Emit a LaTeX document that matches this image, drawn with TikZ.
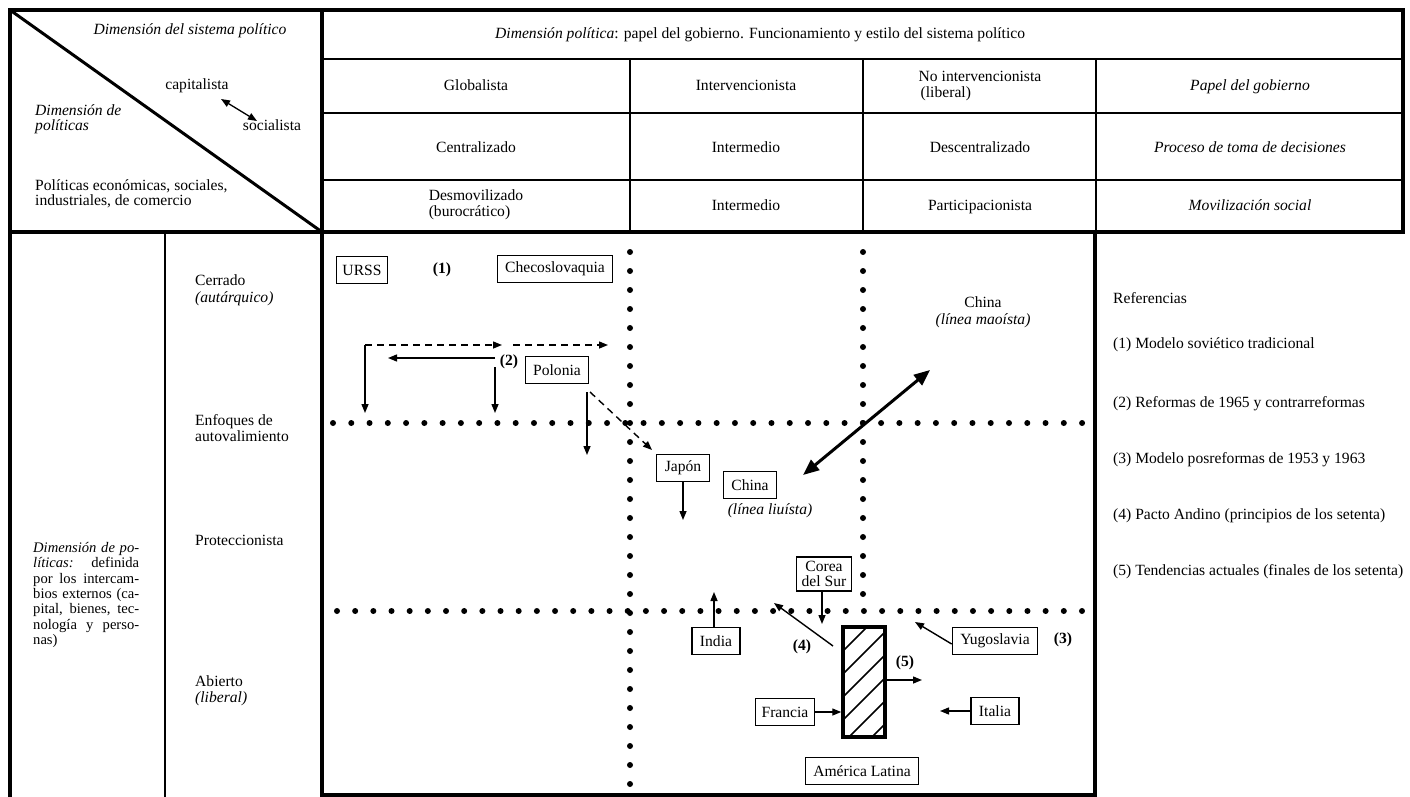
\documentclass[tikz,border=0pt]{standalone}
\usepackage{fontspec}
\setmainfont{Liberation Serif}
\usetikzlibrary{arrows.meta}
\newcommand{\jln}[1]{\hbox to 106pt{#1}}
\begin{document}
\begin{tikzpicture}[x=1pt,y=-1pt,font=\fontsize{15.6}{15.8}\selectfont]
\tikzset{
  heavy/.style={line width=3.5pt},
  fine/.style={line width=1.2pt},
  txt/.style={inner sep=0pt},
  cbox/.style={draw,line width=1.3pt,inner xsep=8pt,inner ysep=4pt,minimum height=27pt,align=center},
  num/.style={inner sep=0pt,font=\fontsize{15.6}{15.8}\selectfont\bfseries},
  arr/.style={line width=1.4pt,-{Triangle[length=9pt,width=7pt]}},
  darr/.style={arr,dash pattern=on 7pt off 5pt},
  bigdbl/.style={line width=3pt,{Triangle[length=16pt,width=13pt]}-{Triangle[length=16pt,width=13pt]}},
  smalldbl/.style={line width=1.3pt,{Triangle[length=9pt,width=7pt]}-{Triangle[length=9pt,width=7pt]}},
}
\useasboundingbox (0,0) rectangle (1410,797);

% ---------- header table ----------
\draw[heavy] (10,10) rectangle (1403,232);
\draw[heavy] (322,10) -- (322,232);
\draw[line width=3pt] (10,10) -- (322,232);
\foreach \y in {59,113,180} \draw[fine] (322,\y) -- (1403,\y);
\foreach \x in {630,863,1096} \draw[fine] (\x,59) -- (\x,232);

% corner cell
\node[txt,anchor=base] (sysdim) at (190,35) {\textit{Dimensión del sistema político}};
\node[txt,anchor=base] (cap) at (197,90) {capitalista};
\node[txt,anchor=base] (soc) at (272,131) {socialista};
\coordinate (capEnd) at (221,99);
\coordinate (socEnd) at (257,121);
\draw[smalldbl] (capEnd) -- (socEnd);
\node[txt,anchor=base west] (poldimA) at (35,116) {\textit{Dimensión de}};
\node[txt,anchor=base west] (poldimB) at (35,131) {\textit{políticas}};
\node[txt,anchor=base west] (polA) at (35,190) {Políticas económicas, sociales,};
\node[txt,anchor=base west] (polB) at (35,205) {industriales, de comercio};

% political dimension rows
\node[txt,anchor=base west] (title) at (495,39) {\textit{Dimensión política}: papel del gobierno. Funcionamiento y estilo del sistema político};
\node[txt,anchor=base] (glob) at (476,91) {Globalista};
\node[txt,anchor=base] (interv) at (746,91) {Intervencionista};
\node[txt,align=left] (nointerv) at (980,86) {No intervencionista\\\hspace{2pt}(liberal)};
\node[txt,anchor=base] (papel) at (1250,91) {\textit{Papel del gobierno}};
\node[txt,anchor=base] (centr) at (476,152) {Centralizado};
\node[txt,anchor=base] (interm1) at (746,152) {Intermedio};
\node[txt,anchor=base] (descentr) at (980,152) {Descentralizado};
\node[txt,anchor=base] (proceso) at (1250,152) {\textit{Proceso de toma de decisiones}};
\node[txt,align=left] (desmov) at (476,205) {Desmovilizado\\(burocrático)};
\node[txt,anchor=base] (interm2) at (746,210) {Intermedio};
\node[txt,anchor=base] (partic) at (980,210) {Participacionista};
\node[txt,anchor=base] (movil) at (1250,210) {\textit{Movilización social}};

% ---------- lower part ----------
\draw[heavy] (10,232) -- (10,797);
\draw[fine] (165,232) -- (165,797);
\draw[heavy] (322,232) rectangle (1095,795);
\draw[heavy] (1095,232) -- (1403,232);

% left paragraph
\node[txt,anchor=north west,align=left,font=\fontsize{14.6}{15.4}\selectfont] (extdim) at (33,542) {%
\vbox{\baselineskip=15.4pt
\jln{\textit{Dimensión de po-}}
\jln{\textit{líticas:}\hfill definida}
\jln{por los intercam-}
\jln{bios externos (ca-}
\jln{pital, bienes, tec-}
\jln{nología y perso-}
\hbox{nas)}}};

% openness levels
\node[txt,anchor=base west] (cerr) at (195,285) {Cerrado};
\node[txt,anchor=base west] (cerrB) at (195,302) {\textit{(autárquico)}};
\node[txt,anchor=base west] (enf) at (195,425) {Enfoques de};
\node[txt,anchor=base west] (enfB) at (195,441) {autovalimiento};
\node[txt,anchor=base west] (prot) at (195,545) {Proteccionista};
\node[txt,anchor=base west] (abi) at (195,686) {Abierto};
\node[txt,anchor=base west] (abiB) at (195,702) {\textit{(liberal)}};

% dotted quadrant lines
\foreach \i in {0,...,41} \fill ({333+\i*18.27},423) circle (3pt);
\foreach \i in {0,...,41} \fill ({337+\i*18.17},611) circle (3pt);
\foreach \i in {0,...,28} \fill (630,{252+\i*19}) circle (3pt);
\foreach \i in {0,...,18} \fill (863,{252+\i*19}) circle (3pt);

% countries
\node[cbox,inner xsep=6pt] (urss) at (362,270) {URSS};
\node[num] (n1) at (442,270) {(1)};
\node[cbox] (checo) at (555,269) {Checoslovaquia};
\node[cbox] (polonia) at (557,370) {Polonia};
\node[num] (n2) at (509,362) {(2)};
\node[cbox] (japon) at (683,468) {Japón};
\node[cbox] (chinaL) at (750,485) {China};
\node[txt] (liu) at (770,511) {\textit{(línea liuísta)}};
\node[txt] (chinaM) at (983,302) {China};
\node[txt] (mao) at (983,321) {\textit{(línea maoísta)}};
\node[cbox,inner xsep=5pt,inner ysep=4pt] (corea) at (824,574) {Corea\\del Sur};
\node[cbox] (india) at (716,641) {India};
\node[cbox] (yugo) at (995,641) {Yugoslavia};
\node[num] (n3) at (1063,640) {(3)};
\node[num] (n4) at (802,647) {(4)};
\node[num] (n5) at (905,663) {(5)};
\node[cbox,inner xsep=6pt] (francia) at (785,712) {Francia};
\node[cbox] (italia) at (995,711) {Italia};
\node[cbox] (amlat) at (862,771) {América Latina};

% hatched block
\node[draw,heavy,minimum width=42pt,minimum height=110pt,inner sep=0pt] (hatch) at (864,682) {};
\begin{scope}
  \clip (843,627) rectangle (885,737);
  \foreach \k in {0,...,9} \draw[line width=1.6pt] (843,{628+\k*23}) -- ++(50,-50);
\end{scope}

% reform paths (2)
\coordinate (rA) at (365,345);
\coordinate (rB) at (502,345);
\coordinate (rC) at (513,345);
\coordinate (rD) at (608,345);
\coordinate (rE) at (365,413);
\coordinate (rF) at (495,358);
\coordinate (rG) at (388,358);
\coordinate (rH) at (495,367);
\coordinate (rI) at (495,413);
\draw[arr] (rA) -- (rE);
\draw[darr] (rA) -- (rB);
\draw[darr] (rC) -- (rD);
\draw[arr] (rF) -- (rG);
\draw[arr] (rH) -- (rI);

% Polonia
\coordinate (polS1) at (587,392);
\coordinate (polS2) at (590,392);
\coordinate (polDown) at (587,455);
\coordinate (polDiag) at (652,450);
\draw[arr] (polS1) -- (polDown);
\draw[darr] (polS2) -- (polDiag);

% Japan, China
\coordinate (japEnd) at (683,520);
\draw[arr] (japon.south) -- (japEnd);
\coordinate (chA) at (803,475);
\coordinate (chB) at (930,370);
\draw[bigdbl] (chA) -- (chB);

% lower right quadrant
\coordinate (corEnd) at (822,624);
\draw[arr] (corea.south -| corEnd) -- (corEnd);
\coordinate (indEnd) at (714,592);
\draw[arr] (india.north -| indEnd) -- (indEnd);
\coordinate (andS) at (833,646);
\coordinate (andE) at (774,603);
\draw[arr] (andS) -- (andE);
\coordinate (yugEnd) at (915,622);
\draw[arr] ([yshift=-3pt]yugo.west) -- (yugEnd);
\coordinate (trEnd) at (922,680);
\draw[arr] (hatch.east |- trEnd) -- (trEnd);
\draw[arr] (francia.east) -- (francia.east -| hatch.west);
\coordinate (itEnd) at (940,711);
\draw[arr] (italia.west) -- (itEnd);

% references
\node[txt,anchor=base west] (refT) at (1113,303) {Referencias};
\node[txt,anchor=base west] (ref1) at (1113,348) {(1) Modelo soviético tradicional};
\node[txt,anchor=base west] (ref2) at (1113,407) {(2) Reformas de 1965 y contrarreformas};
\node[txt,anchor=base west] (ref3) at (1113,463) {(3) Modelo posreformas de 1953 y 1963};
\node[txt,anchor=base west] (ref4) at (1113,519) {(4) Pacto Andino (principios de los setenta)};
\node[txt,anchor=base west] (ref5) at (1113,575) {(5) Tendencias actuales (finales de los setenta)};
\end{tikzpicture}
\end{document}
